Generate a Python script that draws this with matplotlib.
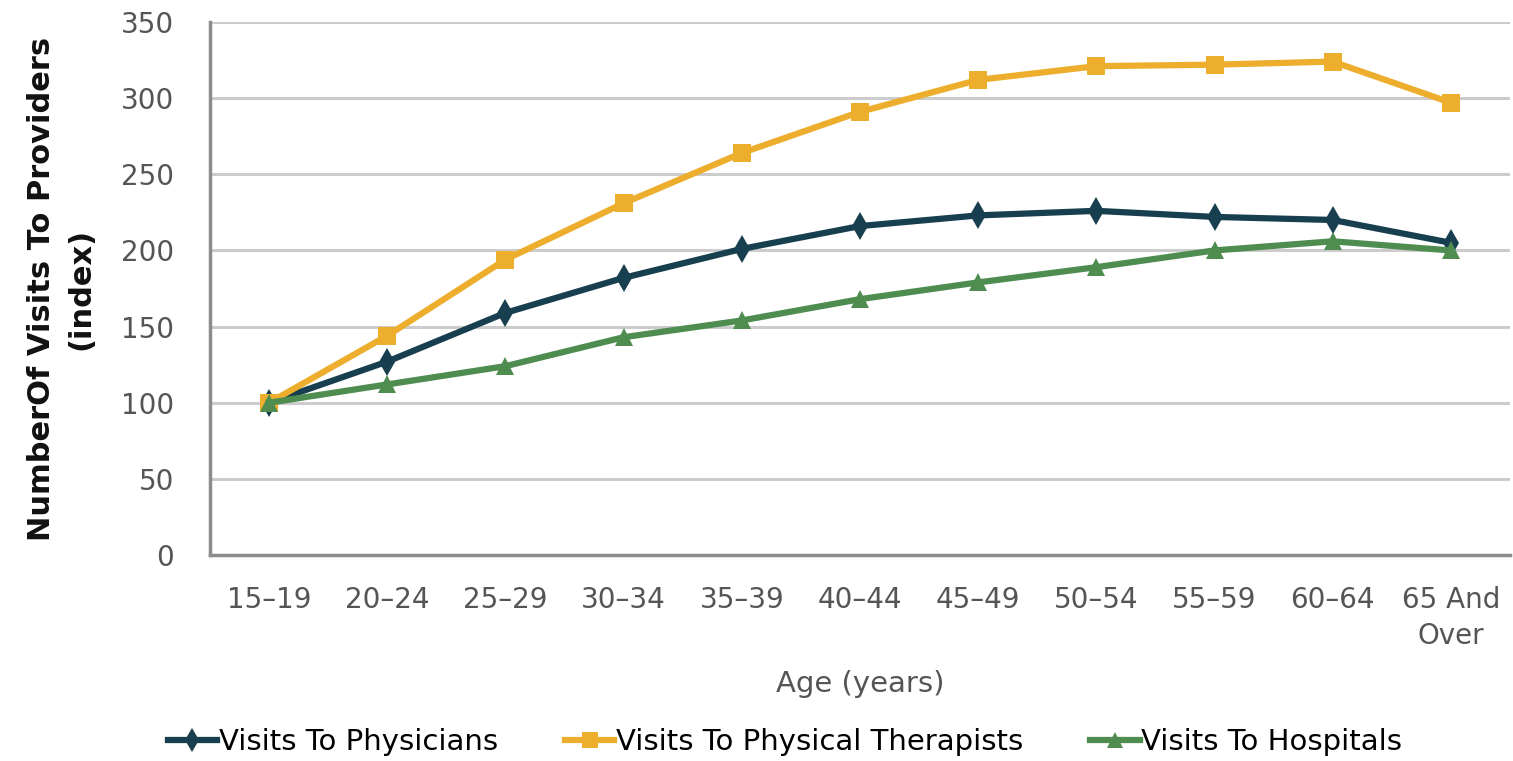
import numpy as np
import matplotlib.pyplot as plt

# age groups and index values (15-19 = 100)
ages = ["15\u201319", "20\u201324", "25\u201329", "30\u201334", "35\u201339", "40\u201344",
        "45\u201349", "50\u201354", "55\u201359", "60\u201364", "65 And\nOver"]
physicians = [100, 127, 159, 182, 201, 216, 223, 226, 222, 220, 205]
therapists = [100, 144, 194, 231, 264, 291, 312, 321, 322, 324, 297]
hospitals = [100, 112, 124, 143, 154, 168, 179, 189, 200, 206, 200]

c_phys = "#173f4f"
c_ther = "#ecae2c"
c_hosp = "#4e8c4f"

fig = plt.figure(figsize=(15.13, 7.61), dpi=100)
ax = fig.add_axes([210/1513, 206/761, 1300/1513, 533/761])

x = np.arange(len(ages))
ax.plot(x, physicians, color=c_phys, lw=4.5, marker="d", ms=14, mew=0,
        label="Visits To Physicians", zorder=3)
ax.plot(x, therapists, color=c_ther, lw=4.5, marker="s", ms=13, mew=0,
        label="Visits To Physical Therapists", zorder=3)
ax.plot(x, hospitals, color=c_hosp, lw=4.5, marker="^", ms=13, mew=0,
        label="Visits To Hospitals", zorder=3)

ax.set_xlim(-0.5, len(ages) - 0.5)
ax.set_ylim(0, 350)
ax.set_yticks(np.arange(0, 351, 50))
ax.set_xticks(x)
ax.set_xticklabels(ages)
ax.yaxis.grid(True, color="#cccccc", lw=2.2)
ax.set_axisbelow(True)

for s in ["top", "right"]:
    ax.spines[s].set_visible(False)
ax.spines["left"].set_color("#8c8c8c")
ax.spines["left"].set_linewidth(2.5)
ax.spines["bottom"].set_color("#8c8c8c")
ax.spines["bottom"].set_linewidth(2.5)

ax.tick_params(axis="y", length=0, pad=26, labelsize=20, labelcolor="#555555")
ax.tick_params(axis="x", length=0, pad=22, labelsize=20, labelcolor="#555555")
for lab in ax.get_xticklabels():
    lab.set_linespacing(1.4)

ax.set_ylabel("NumberOf Visits To Providers\n(index)", fontsize=22,
              fontweight="bold", color="#111111", labelpad=18, linespacing=1.45)
ax.set_xlabel("Age (years)", fontsize=21, color="#555555", labelpad=14)

fig.legend(loc="center", bbox_to_anchor=(785/1513, 19/761), ncol=3,
           frameon=False, fontsize=21, handlelength=1.7, handletextpad=0.05,
           columnspacing=2.3, markerscale=0.9, borderaxespad=0)

fig.savefig("out.png", dpi=100)
